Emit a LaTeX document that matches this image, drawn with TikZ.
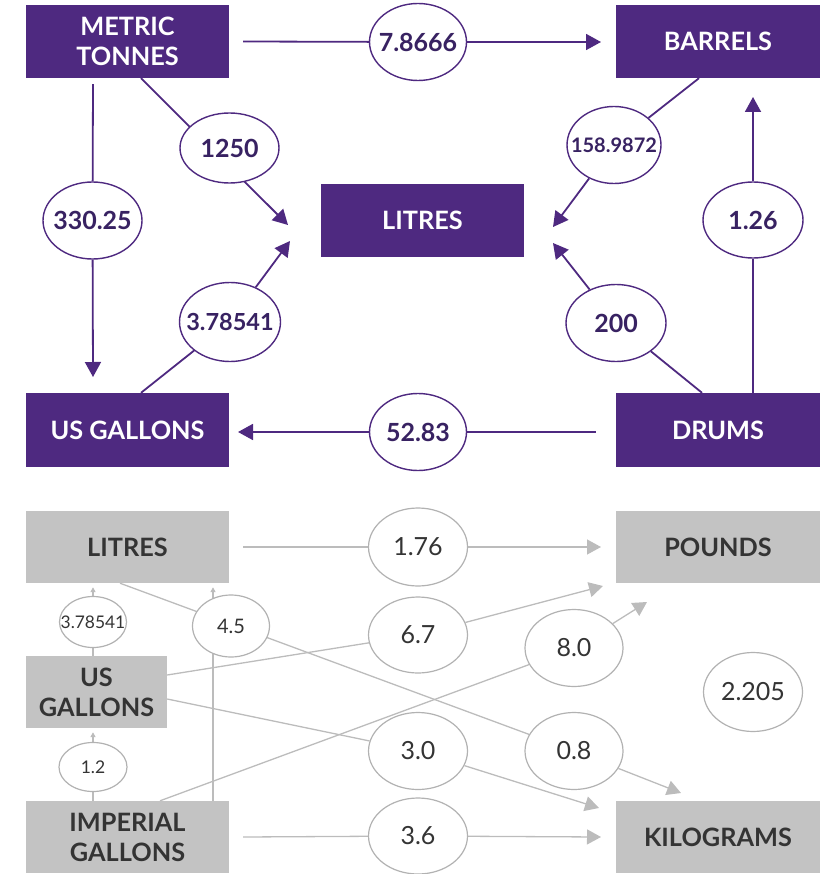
\documentclass[tikz,border=0pt]{standalone}
\usepackage{fontspec}
\setmainfont{Lato}
\usetikzlibrary{shapes.geometric,arrows.meta}
\pgfdeclarelayer{bg}
\pgfsetlayers{bg,main}
\definecolor{pur}{RGB}{78,41,128}
\definecolor{purtxt}{RGB}{56,34,98}
\definecolor{gbox}{RGB}{195,195,195}
\definecolor{gtxt}{RGB}{52,52,52}
\definecolor{glin}{RGB}{188,188,188}
\definecolor{gell}{RGB}{178,178,178}
\begin{document}
\begin{tikzpicture}[x=1pt,y=-1pt,
  pbox/.style={fill=pur,text=white,font=\fontsize{25.3}{30}\selectfont\bfseries,
    minimum width=203pt,minimum height=73pt,inner sep=0pt,align=center},
  gbx/.style={fill=gbox,text=gtxt,font=\fontsize{25.3}{30}\selectfont\bfseries,
    minimum width=203pt,minimum height=72pt,inner sep=0pt,align=center},
  pell/.style={ellipse,draw=pur,line width=1.4pt,fill=white,inner sep=0pt,
    minimum width=98pt,minimum height=77pt},
  gel/.style={ellipse,draw=gell,line width=1.2pt,fill=white,inner sep=0pt,
    minimum width=99pt,minimum height=77pt},
  pnum/.style={text=purtxt,font=\fontsize{25}{30}\selectfont\bfseries,inner sep=0pt},
  gnum/.style={text=gtxt,font=\fontsize{25}{30}\selectfont,inner sep=0pt},
  pline/.style={draw=pur,line width=1.8pt},
  gline/.style={draw=glin,line width=1.3pt},
  ptip/.style={-{Triangle[length=15pt,width=16pt]}},
  gtip/.style={-{Triangle[length=14pt,width=15pt]}},
  stip/.style={-{Triangle[length=5pt,width=5pt]}}]
\useasboundingbox (0,0) rectangle (828,874);

% ---------- top part ----------
\node[pbox] (mt) at (127.5,41.5) {METRIC\\TONNES};
\node[pbox,minimum width=204pt] (bar) at (718,41.5) {BARRELS};
\node[pbox] (lit) at (422.5,220.5) {LITRES};
\node[pbox,minimum height=74pt] (usg) at (127.5,430) {US GALLONS};
\node[pbox,minimum width=204pt,minimum height=74pt] (drm) at (718,430) {DRUMS};

\node[pell,minimum width=97pt,label={[pnum]center:7.8666}] (c1) at (418,42) {};
\node[pell,minimum width=99pt,minimum height=70pt,label={[pnum]center:1250}] (c2) at (229.5,148) {};
\node[pell,minimum width=99pt,label={[pnum]center:330.25}] (c3) at (92.5,220.5) {};
\node[pell,minimum width=94pt,label={[pnum,font=\fontsize{20}{24}\selectfont\bfseries]center:158.9872}] (c4) at (614,145) {};
\node[pell,minimum width=100pt,minimum height=76pt,label={[pnum]center:1.26}] (c5) at (753,220) {};
\node[pell,minimum width=101pt,minimum height=79pt,label={[pnum,font=\fontsize{23.5}{28}\selectfont\bfseries]center:3.78541}] (c6) at (230,322) {};
\node[pell,minimum width=100pt,label={[pnum]center:200}] (c7) at (616,323) {};
\node[pell,minimum width=97pt,label={[pnum]center:52.83}] (c8) at (418,432) {};

\coordinate (t1) at (601,42);
\coordinate (t2) at (288,225);
\coordinate (t3) at (93,377);
\coordinate (t4) at (553,227);
\coordinate (t5) at (753,97);
\coordinate (t6) at (290,241);
\coordinate (t7) at (553,243);
\coordinate (t8) at (238,432);

% ---------- bottom part ----------
\node[gbx] (l2) at (127.5,547) {LITRES};
\node[gbx,minimum width=204pt] (lb) at (718,547) {POUNDS};
\node[gbx,minimum width=141pt] (usg2) at (96.5,692) {US\\GALLONS};
\node[gbx] (imp) at (127.5,837) {IMPERIAL\\GALLONS};
\node[gbx,minimum width=204pt] (kg) at (718,837) {KILOGRAMS};

\node[gel,minimum height=78pt,label={[gnum]center:1.76}] (d1) at (418,547) {};
\node[gel,minimum height=76pt,label={[gnum]center:6.7}] (d2) at (418,635) {};
\node[gel,minimum width=98pt,label={[gnum]center:8.0}] (d3) at (574,648) {};
\node[gel,label={[gnum]center:3.0}] (d4) at (418,751) {};
\node[gel,minimum width=98pt,label={[gnum]center:0.8}] (d5) at (574,751) {};
\node[gel,minimum height=76pt,label={[gnum]center:3.6}] (d6) at (418,836) {};
\node[gel,minimum height=79pt,label={[gnum]center:2.205}] (d7) at (753,692) {};
\node[gel,minimum width=67pt,minimum height=51pt,label={[gnum,font=\fontsize{17.4}{20}\selectfont]center:3.78541}] (s1) at (93,622) {};
\node[gel,minimum width=77pt,minimum height=62pt,label={[gnum,font=\fontsize{20}{22}\selectfont]center:4.5}] (s2) at (231,626) {};
\node[gel,minimum width=68pt,minimum height=49pt,label={[gnum,font=\fontsize{17.5}{20}\selectfont]center:1.2}] (s3) at (93,767) {};

\coordinate (u1) at (601,547);
\coordinate (u2) at (603,586);
\coordinate (u3) at (647,602);
\coordinate (u4) at (599,808);
\coordinate (u5) at (681,793);
\coordinate (u6) at (601,837);

\begin{pgfonlayer}{bg}
% top connectors
\draw[pline,ptip] ([xshift=14pt]mt.east) -- (c1) -- (t1);
\draw[pline,ptip] ([xshift=13.5pt]mt.south) -- (t2);
\draw[pline,ptip] ([xshift=-34.5pt,yshift=-6pt]mt.south) -- (c3) -- (t3);
\draw[pline,ptip] ([xshift=-19pt]bar.south) -- (c4) -- (t4);
\draw[pline,ptip] ([xshift=35pt]drm.north) -- (c5) -- (t5);
\draw[pline,ptip] ([xshift=13.5pt]usg.north) -- (c6) -- (t6);
\draw[pline,ptip] ([xshift=-16pt]drm.north) -- (c7) -- (t7);
\draw[pline,ptip] ([xshift=-20pt,yshift=-2pt]drm.west) -- (c8) -- (t8);
% bottom connectors
\draw[gline,gtip] ([xshift=14pt]l2.east) -- (d1) -- (u1);
\draw[gline,gtip] ([yshift=17pt]usg2.east) -- (d2) -- (u2);
\draw[gline,gtip] ([xshift=32.5pt]imp.north) -- (d3) -- (u3);
\draw[gline,gtip] ([yshift=-7pt]usg2.east) -- (d4) -- (u4);
\draw[gline,gtip] ([xshift=-7.5pt]l2.south) -- (d5) -- (u5);
\draw[gline,gtip] ([xshift=14pt]imp.east) -- (d6) -- (u6);
\draw[gline,stip] ([xshift=85.5pt]imp.north) -- ([xshift=85.5pt,yshift=-4pt]l2.south);
\draw[gline,stip] ([xshift=-3.5pt]usg2.north) -- (s1) -- ([xshift=-34.5pt,yshift=-4pt]l2.south);
\draw[gline,stip] ([xshift=-34.5pt]imp.north) -- (s3) -- ([xshift=-3.5pt,yshift=-4pt]usg2.south);
\end{pgfonlayer}
\end{tikzpicture}
\end{document}
